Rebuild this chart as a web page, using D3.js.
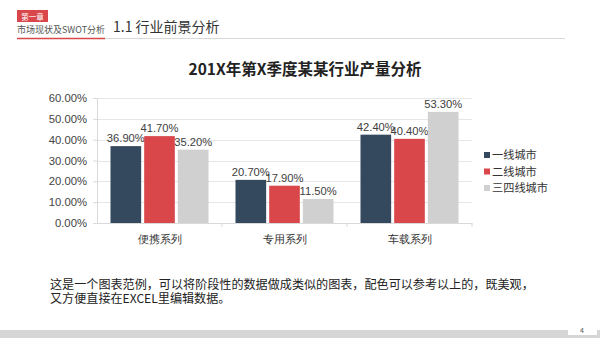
<!DOCTYPE html>
<html>
<head>
<meta charset="utf-8">
<script src="https://cdn.jsdelivr.net/npm/d3@7"></script>
<style>
  html, body { margin: 0; padding: 0; background: #fff; }
  svg { display: block; font-family: "Noto Sans CJK SC", "Noto Sans", sans-serif; }
</style>
</head>
<body>
<svg id="chart" width="600" height="338"></svg>
<script>
// Categories, series and values
const categories = ["便携系列", "专用系列", "车载系列"];
const seriesNames = ["一线城市", "二线城市", "三四线城市"];
const seriesColors = ["#34495e", "#d9474a", "#d0d0d0"];
const tier1 = [36.9, 20.7, 42.4];
const tier2 = [41.7, 17.9, 40.4];
const tier3 = [35.2, 11.5, 53.3];
const yTicks = [0, 10, 20, 30, 40, 50, 60];

const series = [tier1, tier2, tier3];

const svg = d3.select("#chart");

// ---- Page header ----
svg.append("rect").attr("x", 17).attr("y", 10).attr("width", 31).attr("height", 12).attr("fill", "#d9474a");
svg.append("text").attr("x", 32.5).attr("y", 19.5).attr("text-anchor", "middle")
  .attr("font-size", 7.5).attr("fill", "#fff").text("第一章");
svg.append("text").attr("x", 17).attr("y", 33).attr("font-size", 9).attr("fill", "#555").text("市场现状及SWOT分析");
svg.append("line").attr("x1", 105).attr("x2", 565).attr("y1", 38.5).attr("y2", 38.5)
  .attr("stroke", "#d8d8d8").attr("stroke-width", 1);
svg.append("line").attr("x1", 17).attr("x2", 105).attr("y1", 38.5).attr("y2", 38.5)
  .attr("stroke", "#d9474a").attr("stroke-width", 1.5);
svg.append("text").attr("x", 113).attr("y", 32).attr("font-size", 14).attr("fill", "#333").text("1.1 行业前景分析");

// ---- Chart title ----
svg.append("text").attr("x", 305).attr("y", 75).attr("text-anchor", "middle")
  .attr("font-size", 15.5).attr("font-weight", "bold").attr("fill", "#222")
  .text("201X年第X季度某某行业产量分析");

// ---- Plot area ----
const plot = { left: 97, right: 472, top: 98, bottom: 223 };

const x0 = d3.scaleBand().domain(categories).range([plot.left, plot.right]).paddingInner(0).paddingOuter(0);
const x1 = d3.scaleBand().domain(d3.range(series.length)).range([13.5, x0.bandwidth() - 13.5]).paddingInner(0.09);
const y = d3.scaleLinear().domain([0, 60]).range([plot.bottom, plot.top]);

// gridlines
svg.append("g").selectAll("line").data(yTicks.filter(t => t > 0)).join("line")
  .attr("x1", plot.left).attr("x2", plot.right)
  .attr("y1", d => Math.round(y(d)) + 0.5).attr("y2", d => Math.round(y(d)) + 0.5)
  .attr("stroke", "#e6e6e6");

// y axis
const yAxis = svg.append("g").attr("transform", `translate(${plot.left},0)`)
  .call(d3.axisLeft(y).tickValues(yTicks).tickFormat(d => d.toFixed(2) + "%").tickSize(4).tickPadding(6));
yAxis.select(".domain").attr("stroke", "#d9d9d9");
yAxis.selectAll(".tick line").attr("stroke", "#d9d9d9");
yAxis.selectAll("text").attr("font-size", 11.3).attr("fill", "#444").attr("font-family", "Arial, 'Liberation Sans', sans-serif");

// x axis
const xAxis = svg.append("g").attr("transform", `translate(0,${plot.bottom})`)
  .call(d3.axisBottom(x0).tickSize(0).tickPadding(12));
xAxis.select(".domain").attr("stroke", "#d9d9d9");
xAxis.selectAll("text").attr("font-size", 11.3).attr("fill", "#333");
// category boundary ticks
svg.append("g").selectAll("line").data(categories).join("line")
  .attr("x1", d => x0(d) + x0.bandwidth()).attr("x2", d => x0(d) + x0.bandwidth())
  .attr("y1", plot.bottom).attr("y2", plot.bottom + 4).attr("stroke", "#d9d9d9");

// bars and value labels
const groups = svg.append("g").selectAll("g").data(categories).join("g")
  .attr("transform", d => `translate(${x0(d)},0)`);

groups.each(function(cat, ci) {
  const g = d3.select(this);
  series.forEach((vals, si) => {
    const v = vals[ci];
    g.append("rect")
      .attr("x", x1(si)).attr("width", x1.bandwidth())
      .attr("y", y(v)).attr("height", y(0) - y(v))
      .attr("fill", seriesColors[si]);
    g.append("text")
      .attr("x", x1(si) + x1.bandwidth() / 2).attr("y", y(v) - 4)
      .attr("text-anchor", "middle").attr("font-size", 11.2).attr("fill", "#404040")
      .attr("font-family", "Arial, 'Liberation Sans', sans-serif")
      .text(v.toFixed(2) + "%");
  });
});

// legend
const legend = svg.append("g").attr("transform", "translate(484,155)");
seriesNames.forEach((name, i) => {
  const row = legend.append("g").attr("transform", `translate(0,${i * 16.5})`);
  row.append("rect").attr("x", 0).attr("y", -3).attr("width", 6).attr("height", 6).attr("fill", seriesColors[i]);
  row.append("text").attr("x", 8).attr("y", 4).attr("font-size", 11.2).attr("fill", "#333").text(name);
});

// ---- Body text ----
svg.append("text").attr("x", 50).attr("y", 289).attr("font-size", 12.1).attr("fill", "#222")
  .text("这是一个图表范例，可以将阶段性的数据做成类似的图表，配色可以参考以上的，既美观，");
svg.append("text").attr("x", 50).attr("y", 303).attr("font-size", 12.1).attr("fill", "#222")
  .text("又方便直接在EXCEL里编辑数据。");

// ---- Footer ----
svg.append("rect").attr("x", 0).attr("y", 330).attr("width", 600).attr("height", 8).attr("fill", "#d6d6d6");
svg.append("rect").attr("x", 568).attr("y", 325).attr("width", 29).attr("height", 10).attr("fill", "#fff");
svg.append("text").attr("x", 582).attr("y", 333).attr("text-anchor", "middle")
  .attr("font-size", 7).attr("fill", "#555").text("4");
</script>
</body>
</html>
